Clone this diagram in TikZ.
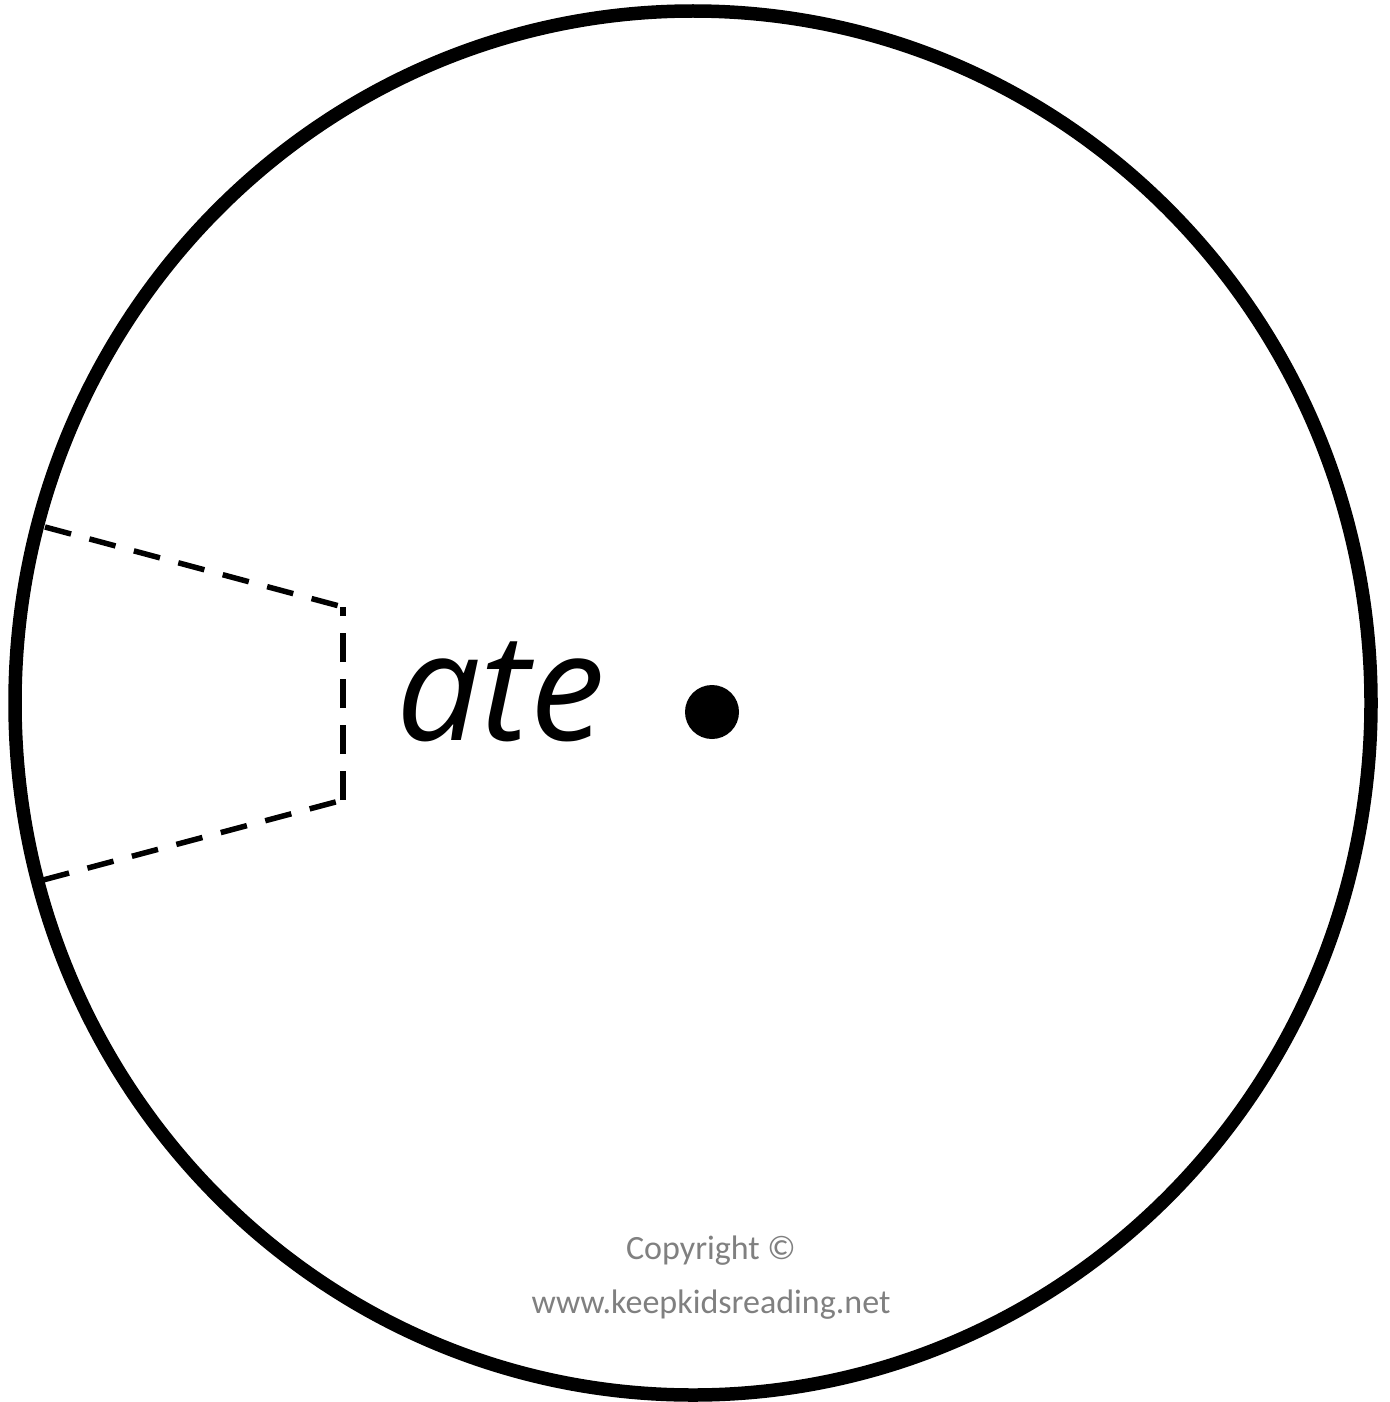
\documentclass[tikz,border=0pt]{standalone}
\usepackage{fontspec}
\setmainfont{Open Sans}
\newfontfamily\copyfont{Carlito}
\definecolor{copygray}{RGB}{128,128,128}
\begin{document}
\begin{tikzpicture}[x=1pt,y=-1pt,
  rim/.style={line width=13.5pt, draw=black},
  cutline/.style={line width=5.5pt, dash pattern=on 27pt off 19pt},
  word/.style={inner sep=0pt, anchor=base west, font=\fontsize{150}{150}\itshape\selectfont},
  copy/.style={inner sep=0pt, anchor=base, text=copygray, font=\copyfont\fontsize{34}{34}\selectfont}]
\useasboundingbox (0,0) rectangle (1389,1402);
\fill[white] (0,0) rectangle (1389,1402);
\draw[rim] (693,703) ellipse [x radius=678, y radius=692];
\coordinate (c1) at (45,527);
\coordinate (c2) at (343,607);
\coordinate (c3) at (343,800);
\coordinate (c4) at (43,880);
\draw[cutline] (c1) -- (c2);
\draw[cutline, dash pattern=on 29pt off 17pt] (c3) -- (c2);
\draw[cutline] (c4) -- (c3);
\node[word] (ate) at (396,740) {ate};
\fill (712,712) circle [radius=27];
\node[copy] (cr1) at (711,1259) {Copyright ©};
\node[copy] (cr2) at (711,1313) {www.keepkidsreading.net};
\end{tikzpicture}
\end{document}
